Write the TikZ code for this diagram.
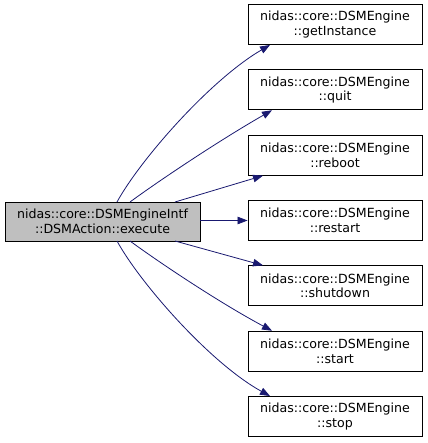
\documentclass[tikz,border=0pt]{standalone}
\usepackage{fontspec}
\setmainfont{DejaVu Sans}
\usetikzlibrary{arrows.meta}
\definecolor{edgeblue}{HTML}{191970}
\definecolor{rootgray}{HTML}{BFBFBF}
\begin{document}
\begin{tikzpicture}[x=1pt,y=-1pt,
  fn/.style={draw=black, line width=0.9pt, fill=white, minimum width=174pt, minimum height=40pt,
    inner sep=0pt, align=center, font=\fontsize{12.6}{14.5}\selectfont},
  root/.style={fn, fill=rootgray, minimum width=195pt, minimum height=39pt},
  call/.style={draw=edgeblue, line width=0.8pt, -{Triangle[length=10pt,width=7.5pt]}, color=edgeblue}]
\useasboundingbox (0,0) rectangle (427,443);
\node[root] (src) at (102.5,221.5) {nidas::core::DSMEngineIntf\\::DSMAction::execute};
\node[fn] (g) at (335,24.5) {nidas::core::DSMEngine\\::getInstance};
\node[fn] (q) at (335,89.8) {nidas::core::DSMEngine\\::quit};
\node[fn] (rb) at (335,155.2) {nidas::core::DSMEngine\\::reboot};
\node[fn] (rs) at (335,220.5) {nidas::core::DSMEngine\\::restart};
\node[fn] (sh) at (335,285.8) {nidas::core::DSMEngine\\::shutdown};
\node[fn] (st) at (335,351.2) {nidas::core::DSMEngine\\::start};
\node[fn] (sp) at (335,416.5) {nidas::core::DSMEngine\\::stop};
\coordinate (s1) at (117,202);
\coordinate (s2) at (130,202);
\coordinate (s3) at (175,202);
\coordinate (s5) at (175,241);
\coordinate (s6) at (130,241);
\coordinate (s7) at (117,241);
\draw[call] (s1) .. controls (140,160) and (210,80) .. (g.south west -| 270,0);
\draw[call] (s2) .. controls (160,180) and (220,140) .. (q.south west -| 272,0);
\draw[call] (s3) -- (rb.south west -| 263,0);
\draw[call] (src.east |- rs.west) -- (rs.west);
\draw[call] (s5) -- (sh.north west -| 263,0);
\draw[call] (s6) .. controls (160,263) and (220,303) .. (st.north west -| 272,0);
\draw[call] (s7) .. controls (140,283) and (210,363) .. (sp.north west -| 270,0);
\end{tikzpicture}
\end{document}
